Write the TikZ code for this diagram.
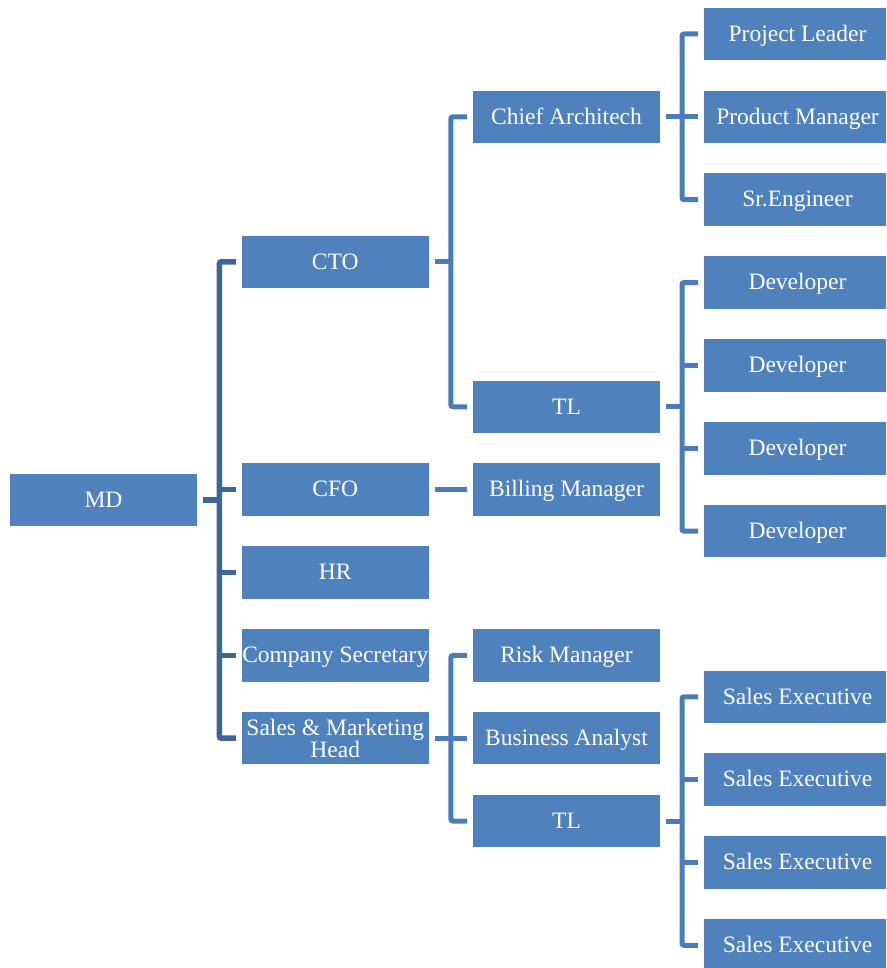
\documentclass[tikz,border=0pt]{standalone}
\usepackage{fontspec}
\setmainfont{Liberation Serif}
\usetikzlibrary{calc}
\definecolor{boxblue}{HTML}{4F81BD}
\definecolor{linedark}{HTML}{3D6698}
\definecolor{linemid}{HTML}{4A7CB9}
\begin{document}
\begin{tikzpicture}[x=1pt,y=-1pt,
  boxbase/.style={fill=boxblue, text=white, minimum width=187pt, minimum height=52.5pt,
    inner sep=0pt, outer sep=0pt, font=\fontsize{23.5}{22}\selectfont, align=center},
  box/.style={boxbase, text height=15.5pt, text depth=1pt},
  conA/.style={draw=linedark, line width=5.5pt, rounded corners=2pt},
  conB/.style={draw=linemid, line width=5pt, rounded corners=2pt}]
\useasboundingbox (0,0) rectangle (886,968);
\clip (0,0) rectangle (886,968);
% column 1
\node[box] (md) at (103.5,500) {MD};
% column 2
\node[box] (cto) at (335.25,261.8) {CTO};
\node[box] (cfo) at (335.25,489.7) {CFO};
\node[box] (hr) at (335.25,572.5) {HR};
\node[box] (cs) at (335.25,655.4) {Company Secretary};
\node[boxbase] (smh) at (335.25,738.2) {Sales \& Marketing\\Head};
% column 3
\node[box] (ca) at (566.5,116.85) {Chief Architech};
\node[box] (tla) at (566.5,406.8) {TL};
\node[box] (bm) at (566.5,489.7) {Billing Manager};
\node[box] (rm) at (566.5,655.4) {Risk Manager};
\node[box] (ba) at (566.5,738.2) {Business Analyst};
\node[box] (tlb) at (566.5,821.1) {TL};
% column 4
\node[box] (pl) at (797.5,34) {Project Leader};
\node[box] (pm) at (797.5,116.85) {Product Manager};
\node[box] (se) at (797.5,199.7) {Sr.Engineer};
\node[box] (dva) at (797.5,282.55) {Developer};
\node[box] (dvb) at (797.5,365.4) {Developer};
\node[box] (dvc) at (797.5,448.25) {Developer};
\node[box] (dvd) at (797.5,531.1) {Developer};
\node[box] (sxa) at (797.5,696.8) {Sales Executive};
\node[box] (sxb) at (797.5,779.65) {Sales Executive};
\node[box] (sxc) at (797.5,862.5) {Sales Executive};
\node[box] (sxd) at (797.5,945.35) {Sales Executive};
% junction coordinates
\coordinate (ja) at ($(md.east)!.5!(cto.west)$);
\coordinate (jb) at ($(cto.east)!.5!(ca.west)$);
\coordinate (jc) at ($(smh.east)!.5!(rm.west)$);
\coordinate (jd) at ($(ca.east)!.5!(pl.west)$);
\coordinate (je) at ($(tla.east)!.5!(dva.west)$);
\coordinate (jf) at ($(tlb.east)!.5!(sxa.west)$);
% level 1
\draw[conA] ([xshift=6pt]md.east) -- (ja |- md.east);
\draw[conA] ([xshift=-6pt]cto.west) -| (ja) |- ([xshift=-6pt]smh.west);
\draw[conA] (ja |- cfo.west) -- ([xshift=-6pt]cfo.west);
\draw[conA] (ja |- hr.west) -- ([xshift=-6pt]hr.west);
\draw[conA] (ja |- cs.west) -- ([xshift=-6pt]cs.west);
% level 2
\draw[conB] ([xshift=6pt]cto.east) -- (jb |- cto.east);
\draw[conB] ([xshift=-6pt]ca.west) -| (jb) |- ([xshift=-6pt]tla.west);
\draw[conB] ([xshift=6pt]cfo.east) -- ([xshift=-6pt]bm.west);
\draw[conB] ([xshift=6pt]smh.east) -- (jc |- smh.east);
\draw[conB] ([xshift=-6pt]rm.west) -| (jc) |- ([xshift=-6pt]tlb.west);
\draw[conB] (jc |- ba.west) -- ([xshift=-6pt]ba.west);
% level 3
\draw[conB] ([xshift=6pt]ca.east) -- (jd |- ca.east);
\draw[conB] ([xshift=-6pt]pl.west) -| (jd) |- ([xshift=-6pt]se.west);
\draw[conB] (jd |- pm.west) -- ([xshift=-6pt]pm.west);
\draw[conB] ([xshift=6pt]tla.east) -- (je |- tla.east);
\draw[conB] ([xshift=-6pt]dva.west) -| (je) |- ([xshift=-6pt]dvd.west);
\draw[conB] (je |- dvb.west) -- ([xshift=-6pt]dvb.west);
\draw[conB] (je |- dvc.west) -- ([xshift=-6pt]dvc.west);
\draw[conB] ([xshift=6pt]tlb.east) -- (jf |- tlb.east);
\draw[conB] ([xshift=-6pt]sxa.west) -| (jf) |- ([xshift=-6pt]sxd.west);
\draw[conB] (jf |- sxb.west) -- ([xshift=-6pt]sxb.west);
\draw[conB] (jf |- sxc.west) -- ([xshift=-6pt]sxc.west);
\end{tikzpicture}
\end{document}
